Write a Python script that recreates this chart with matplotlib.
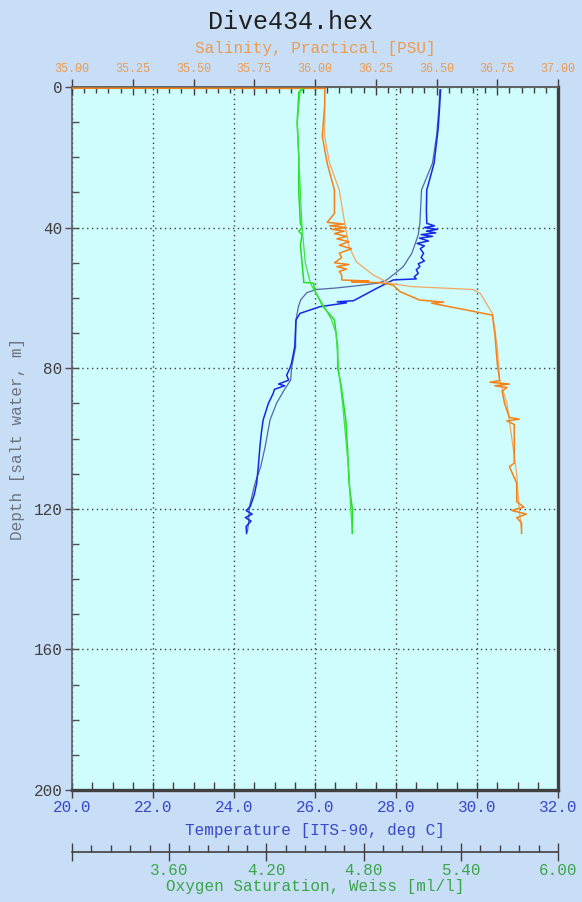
import matplotlib
matplotlib.use('Agg')
import matplotlib.pyplot as plt
from matplotlib.ticker import MultipleLocator, FixedLocator, FormatStrFormatter

# Temperature profile, two casts (depth m, deg C)
tempDepthA = [0.8, 6, 14, 21.7, 29.3, 38.8, 42, 45.4, 47.3, 51.1, 53, 54.9, 55.8, 56.6, 57.2,
              57.6, 58.5, 60.5, 62.5, 66.3, 74, 80, 83.4, 86, 90, 94.7, 102.3, 108, 112.7,
              119.4, 124, 126.5]
tempA = [29.08, 29.06, 29.0, 28.90, 28.63, 28.59, 28.55, 28.45, 28.39, 28.18, 27.98, 27.77,
         27.55, 27.0, 26.5, 26.04, 25.80, 25.65, 25.59, 25.53, 25.52, 25.42, 25.40, 25.25,
         25.05, 24.89, 24.77, 24.66, 24.52, 24.38, 24.36, 24.33]
tempDepthB = [0.8, 5, 12, 21.7, 29.3, 35, 38.8, 39.5, 40.0, 40.5, 41.0, 41.5, 42.0, 42.5, 43.0,
              43.8, 44.5, 45.2, 46.0, 47.3, 48.5, 49.5, 50.3, 51.1, 52.0, 53.0, 54.0, 54.6,
              54.8, 54.9, 57.3, 60.8, 61.1, 61.4, 62.5, 64.4, 66.3, 73.9, 78.6, 80, 82, 83.4,
              84.5, 85, 86, 87.1, 90, 94.7, 98, 102.3, 108, 112.7, 116, 119.4, 120.5, 121.5,
              122.5, 123.5, 125, 127]
tempB = [29.10, 29.08, 29.04, 28.94, 28.76, 28.75, 28.76, 28.95, 28.70, 29.02, 28.75, 28.98,
         28.62, 28.90, 28.58, 28.80, 28.52, 28.70, 28.60, 28.68, 28.62, 28.70, 28.55, 28.59,
         28.50, 28.55, 28.45, 28.50, 28.10, 27.93, 27.52, 26.95, 26.55, 26.78, 26.12, 25.63,
         25.53, 25.50, 25.42, 25.38, 25.30, 25.35, 25.10, 25.25, 25.00, 24.97, 24.85, 24.72,
         24.68, 24.64, 24.60, 24.56, 24.50, 24.40, 24.30, 24.45, 24.28, 24.42, 24.30, 24.31]

# Salinity profile, two casts (depth m, PSU)
salDepthA = [0.4, 14, 21.7, 29.3, 37.8, 45.4, 49.7, 53.5, 55.9, 56.8, 57.6, 58.7, 64.4, 73.9,
             83.4, 90, 100, 110, 120, 126]
salA = [36.04, 36.04, 36.06, 36.10, 36.12, 36.14, 36.17, 36.24, 36.31, 36.40, 36.65, 36.68,
        36.73, 36.75, 36.76, 36.79, 36.81, 36.83, 36.84, 36.85]
salDepthB = [0.3, 0.4, 5, 14, 21.7, 29.3, 36, 38.5, 39, 39.5, 40, 40.5, 41, 41.7, 42.5, 43.2,
             44, 45, 46, 47.3, 48.5, 50, 50.5, 51.1, 51.8, 52.5, 53.5, 54.9, 55.2, 55.4, 55.7,
             56.3, 58.2, 60.6, 61.2, 61.5, 63.4, 64.9, 70.1, 78.6, 83.5, 84.0, 84.5, 85.0,
             85.5, 86.5, 90, 94.0, 94.5, 95.0, 96, 102.3, 107, 108, 112.7, 118, 119.5, 120.5,
             121.5, 122.5, 124, 127]
salB = [34.0, 36.04, 36.04, 36.03, 36.05, 36.08, 36.08, 36.05, 36.12, 36.06, 36.13, 36.07,
        36.12, 36.08, 36.13, 36.09, 36.14, 36.10, 36.15, 36.10, 36.11, 36.08, 36.14, 36.09,
        36.13, 36.10, 36.11, 36.11, 36.22, 36.15, 36.27, 36.32, 36.35, 36.43, 36.53, 36.48,
        36.62, 36.73, 36.74, 36.75, 36.76, 36.72, 36.80, 36.74, 36.79, 36.77, 36.78, 36.80,
        36.84, 36.79, 36.82, 36.82, 36.82, 36.80, 36.83, 36.83, 36.86, 36.81, 36.87, 36.83,
        36.85, 36.85]

# Oxygen profile, two casts (depth m, ml/l)
oxDepthA = [0.5, 1.5, 10, 20, 30, 38.8, 40, 41, 42, 45, 50, 54.9, 55.6, 55.8, 58, 62.5, 66.3,
            70, 74, 80, 84.6, 94.7, 102.3, 112.7, 120, 127]
oxA = [4.43, 4.40, 4.39, 4.40, 4.40, 4.41, 4.42, 4.40, 4.42, 4.41, 4.42, 4.43, 4.43, 4.49,
       4.50, 4.55, 4.62, 4.63, 4.64, 4.64, 4.66, 4.69, 4.70, 4.71, 4.73, 4.73]
oxDepthB = [0.5, 10, 20, 30, 40, 50, 55.5, 57.5, 59, 62, 66, 70, 80, 90, 100, 110, 120, 126]
oxB = [4.41, 4.39, 4.40, 4.41, 4.42, 4.44, 4.47, 4.49, 4.51, 4.55, 4.60, 4.63, 4.645, 4.67,
       4.69, 4.71, 4.72, 4.73]

figBg = '#c8ddf6'
plotBg = '#cffcfc'
tempCol = '#3a48c8'
salCol = '#eb9c50'
oxCol = '#3aa54a'
mono = 'Liberation Mono'
plt.rcParams['font.family'] = mono

fig = plt.figure(figsize=(5.82, 9.02), dpi=100, facecolor=figBg)
ax = fig.add_axes([72/582, 1-790/902, 486/582, 703/902])
ax.set_facecolor(plotBg)

# temperature / depth (main axes)
ax.plot(tempA, tempDepthA, color='#5566a8', lw=0.9, zorder=3)
ax.plot(tempB, tempDepthB, color='#1428e6', lw=1.1, zorder=3)
ax.set_xlim(20, 32)
ax.set_ylim(200, 0)
ax.xaxis.set_major_locator(MultipleLocator(2))
ax.xaxis.set_minor_locator(MultipleLocator(0.5))
ax.xaxis.set_major_formatter(FormatStrFormatter('%.1f'))
ax.yaxis.set_major_locator(MultipleLocator(40))
ax.yaxis.set_minor_locator(MultipleLocator(10))
ax.tick_params(axis='x', which='major', direction='inout', length=11.5, width=1, color='#404040',
               labelsize=11.5, labelcolor=tempCol, pad=1.5)
ax.tick_params(axis='x', which='minor', direction='in', length=5.5, width=1, color='#404040')
ax.tick_params(axis='y', which='major', direction='inout', length=10, width=1, color='#505050',
               labelsize=11.5, labelcolor='#404040', pad=2)
ax.tick_params(axis='y', which='minor', direction='in', length=5, width=1, color='#505050')
ax.grid(True, which='major', color='#404040', linestyle=(0, (1, 2.5)), lw=1)
ax.set_axisbelow(True)
for side in ['top', 'left']:
    ax.spines[side].set_color('#606060')
    ax.spines[side].set_linewidth(1.2)
for side in ['bottom', 'right']:
    ax.spines[side].set_color('#404040')
    ax.spines[side].set_linewidth(2.4)
ax.set_xlabel('Temperature [ITS-90, deg C]', color=tempCol, fontsize=11.5)
ax.xaxis.set_label_coords(0.5, (790-830)/703)
ax.xaxis.label.set_verticalalignment('center')
ax.set_ylabel('Depth [salt water, m]', color='#6a7480', fontsize=11.5)
ax.yaxis.set_label_coords((18-72)/486, 0.5)
ax.yaxis.label.set_verticalalignment('center')

# salinity on top axis
axS = ax.twiny()
axS.plot(salA, salDepthA, color='#f2a860', lw=0.9, zorder=3)
axS.plot(salB, salDepthB, color='#f58218', lw=1.1, zorder=3)
axS.set_xlim(35, 37)
axS.xaxis.set_major_locator(MultipleLocator(0.25))
axS.xaxis.set_minor_locator(MultipleLocator(0.05))
axS.xaxis.set_major_formatter(FormatStrFormatter('%.2f'))
axS.tick_params(axis='x', which='major', direction='inout', length=12, width=1, color='#404040',
                labelsize=8.5, labelcolor=salCol, pad=2.5)
axS.tick_params(axis='x', which='minor', direction='in', length=4.5, width=1, color='#404040')
for side in ['bottom', 'left', 'right']:
    axS.spines[side].set_visible(False)
axS.spines['top'].set_color('#606060')
axS.spines['top'].set_linewidth(1.2)
axS.set_xlabel('Salinity, Practical [PSU]', color=salCol, fontsize=11.5)
axS.xaxis.set_label_coords(0.5, 1 + (87-48)/703)
axS.xaxis.label.set_verticalalignment('center')

# oxygen on a detached bottom axis
axO = ax.twiny()
axO.plot(oxA, oxDepthA, color='#22dd22', lw=1.1, zorder=3)
axO.plot(oxB, oxDepthB, color='#44e044', lw=0.9, zorder=3)
axO.set_xlim(3.0, 6.0)
axO.xaxis.set_ticks_position('bottom')
axO.xaxis.set_label_position('bottom')
axO.spines['bottom'].set_position(('outward', (852-790)*0.72))
axO.spines['bottom'].set_color('#404040')
axO.spines['bottom'].set_linewidth(1.2)
for side in ['top', 'left', 'right']:
    axO.spines[side].set_visible(False)
oxTicks = [3.0, 3.6, 4.2, 4.8, 5.4, 6.0]
oxLabels = ['', '3.60', '4.20', '4.80', '5.40', '6.00']
axO.xaxis.set_major_locator(FixedLocator(oxTicks))
axO.set_xticklabels(oxLabels)
axO.xaxis.set_minor_locator(MultipleLocator(0.12))
axO.tick_params(axis='x', which='major', direction='inout', length=13, width=1, color='#404040',
                labelsize=11.5, labelcolor=oxCol, pad=1.5)
axO.tick_params(axis='x', which='minor', direction='in', length=5, width=1, color='#404040')
axO.set_xlabel('Oxygen Saturation, Weiss [ml/l]', color=oxCol, fontsize=11.5)
axO.xaxis.set_label_coords(0.5, (790-887)/703)
axO.xaxis.label.set_verticalalignment('center')

fig.text(0.5, 1-22/902, 'Dive434.hex', ha='center', va='center', fontsize=18, color='#202020')

fig.savefig('out.png', dpi=100, facecolor=figBg)
